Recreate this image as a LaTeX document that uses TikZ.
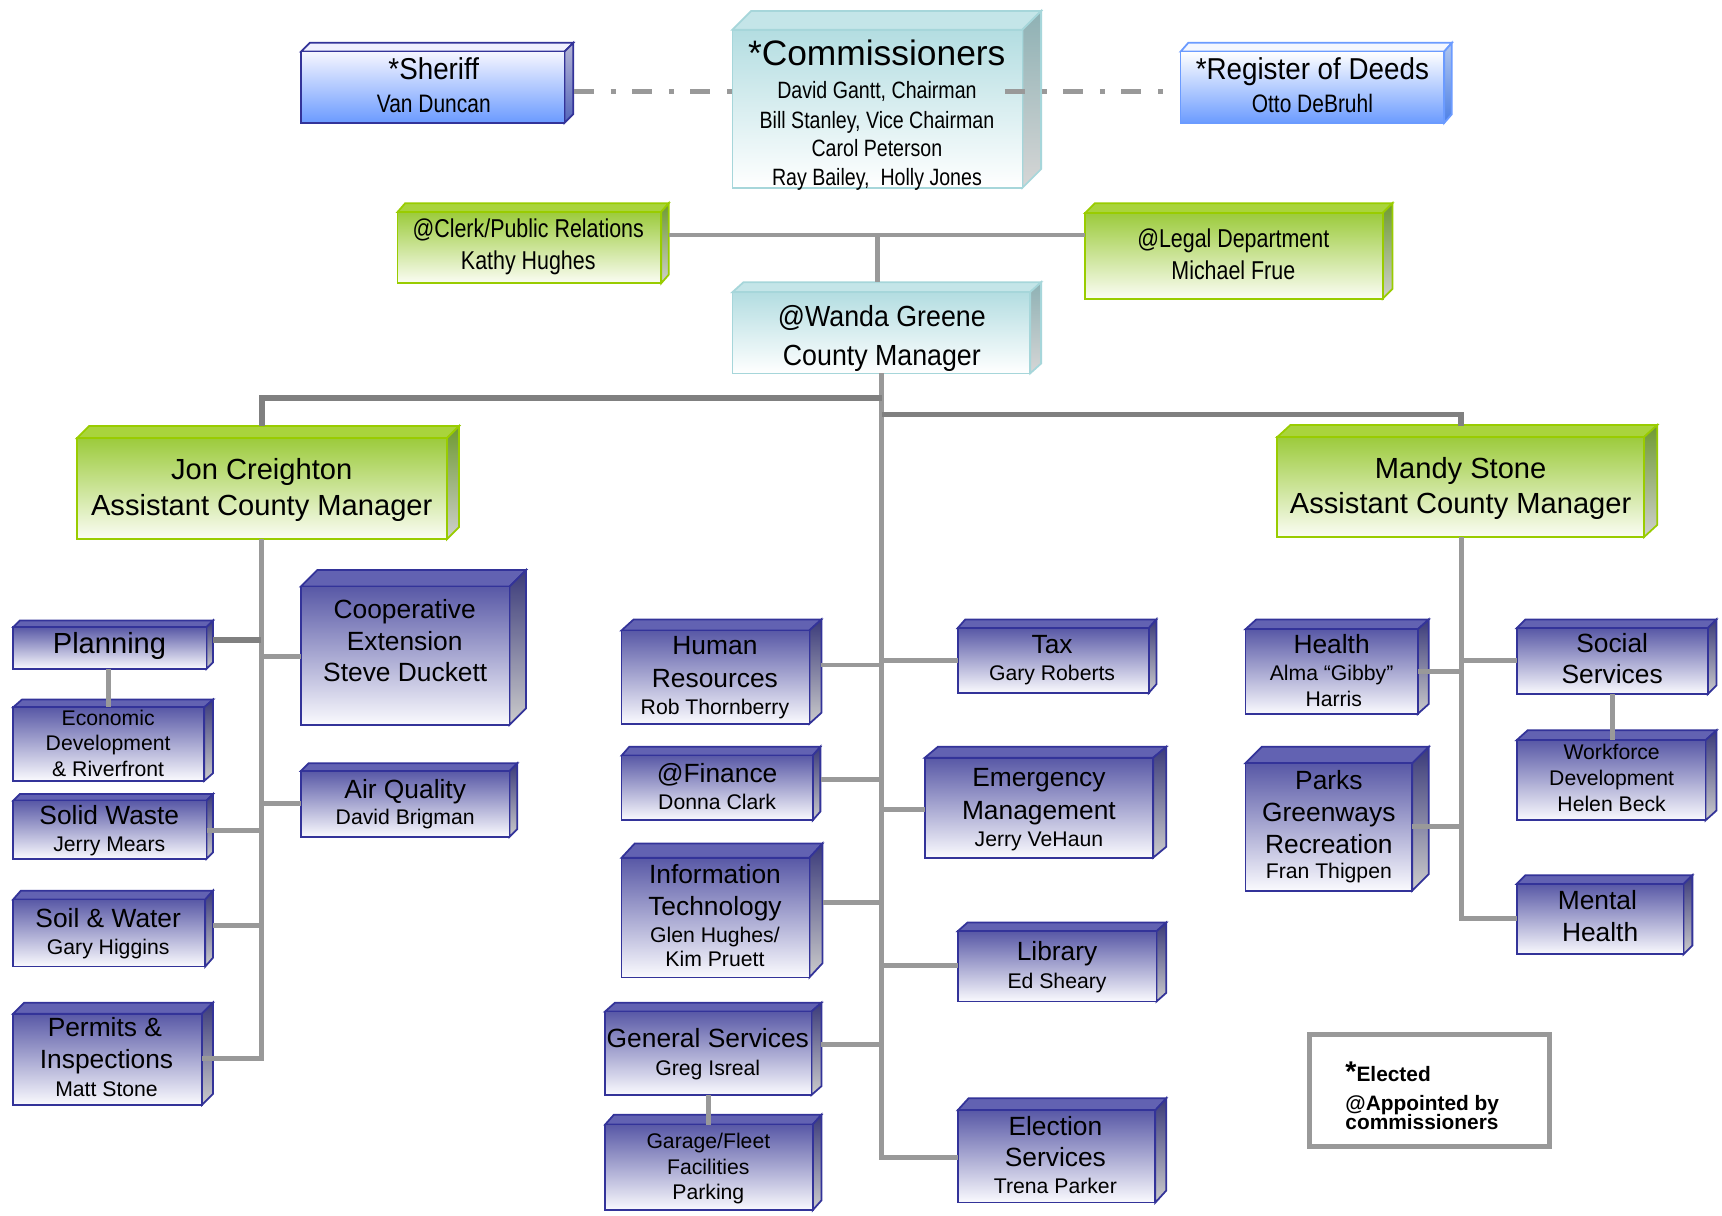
\documentclass[tikz,border=0pt]{standalone}
\usepackage{fontspec}
\setmainfont{Liberation Sans}
\newfontfamily\nfont[FakeStretch=0.83]{Liberation Sans}
\newfontfamily\mfont[FakeStretch=0.92]{Liberation Sans}
\newcommand\fsz[1]{\fontsize{#1}{#1}\selectfont}
\definecolor{deptT}{HTML}{6262B2}
\definecolor{deptB}{HTML}{333399}
\definecolor{deptF1}{HTML}{5858A6}
\definecolor{deptF2}{HTML}{FAFAFE}
\definecolor{deptS1}{HTML}{3A3A7A}
\definecolor{deptS2}{HTML}{CCCCCC}
\definecolor{greenT}{HTML}{A9D43C}
\definecolor{greenB}{HTML}{99CC00}
\definecolor{greenF1}{HTML}{9CCB3C}
\definecolor{greenF2}{HTML}{FBFDF4}
\definecolor{greenS1}{HTML}{6E9A30}
\definecolor{greenS2}{HTML}{CFCFCF}
\definecolor{tealT}{HTML}{C4E5E8}
\definecolor{tealB}{HTML}{A6D6DA}
\definecolor{tealF1}{HTML}{B3DDE1}
\definecolor{tealF2}{HTML}{FFFFFF}
\definecolor{tealS1}{HTML}{8EB1B4}
\definecolor{tealS2}{HTML}{D6D6D6}
\definecolor{sherT}{HTML}{F0F0FF}
\definecolor{sherB}{HTML}{333399}
\definecolor{sherF1}{HTML}{F6F6FF}
\definecolor{sherF2}{HTML}{6A9AFF}
\definecolor{sherS1}{HTML}{B5B5D5}
\definecolor{sherS2}{HTML}{5566BB}
\definecolor{regT}{HTML}{F4F7FF}
\definecolor{regB}{HTML}{6B9BFF}
\definecolor{regF1}{HTML}{FFFFFF}
\definecolor{regF2}{HTML}{6B9BFF}
\definecolor{regS1}{HTML}{B0C6EE}
\definecolor{regS2}{HTML}{4D80E6}
\definecolor{lineA}{HTML}{808080}
\definecolor{lineB}{HTML}{999999}
\tikzset{
  boxkind/.style={
    #1top/.style={fill=#1T, draw=#1B, line width=0.8pt},
    #1side/.style={top color=#1S1, bottom color=#1S2, draw=#1B, line width=0.8pt},
    #1front/.style={top color=#1F1, bottom color=#1F2, draw=#1B, line width=0.8pt}},
  boxkind=dept, boxkind=green, boxkind=teal, boxkind=sher, boxkind=reg,
  tx/.style={anchor=base, inner sep=0pt, text=black},
  T/.style={font=\fsz{12}},
  N/.style={font=\fsz{9.65}},
  connA/.style={draw=lineA, line width=2.6pt},
  connB/.style={draw=lineB, line width=2.25pt},
  dashc/.style={draw=lineB, line width=2.25pt, dash pattern=on 9pt off 7.75pt on 2.25pt off 7.5pt},
  legendbox/.style={draw=lineB, line width=2.25pt, fill=white, rectangle, inner sep=0pt, outer sep=0pt}
}
\newcommand\tdbox[8]{%
  \path[#8top] (#2,#3) -- (#2+#6,#3-#7) -- (#4+#6,#3-#7) -- (#4,#3) -- cycle;
  \path[#8side] (#4,#3) -- (#4+#6,#3-#7) -- (#4+#6,#5-#7) -- (#4,#5) -- cycle;
  \node[#8front, rectangle, inner sep=0pt, outer sep=0pt, anchor=north west,
        minimum width={(#4-#2)*0.5pt}, minimum height={(#5-#3)*0.5pt}] (#1) at (#2,#3) {};
}
\newcommand\tline[5]{\node[tx,#4] (#1) at (#2,#3) {#5};}
\begin{document}
\begin{tikzpicture}[x=0.5pt,y=-0.5pt]
\fill[white] (0,0) rectangle (1568,1107);
\useasboundingbox (0,0) rectangle (1568,1107);

% ---------- boxes ----------
\tdbox{sheriff}{274}{47}{514}{112}{8}{8}{sher}
\tdbox{comm}{667}{27}{931}{171}{17}{17}{teal}
\tdbox{reg}{1075}{47}{1315}{112}{7}{8}{reg}
\tdbox{clerk}{362}{193}{602}{258}{7}{8}{green}
\tdbox{legal}{988}{194}{1259}{272}{9}{9}{green}
\tdbox{wanda}{667}{266}{938}{340}{10}{9}{teal}
\tdbox{jon}{70}{399}{407}{491}{11}{11}{green}
\tdbox{mandy}{1163}{398}{1497}{489}{12}{11}{green}
\tdbox{plan}{12}{571}{188}{609}{6}{6}{dept}
\tdbox{econ}{12}{644}{186}{711}{8}{7}{dept}
\tdbox{solid}{12}{729}{188}{782}{6}{6}{dept}
\tdbox{soil}{12}{819}{187}{880}{7}{8}{dept}
\tdbox{perm}{12}{923}{184}{1006}{10}{10}{dept}
\tdbox{coop}{274}{534}{464}{660}{15}{15}{dept}
\tdbox{air}{274}{702}{464}{762}{7}{7}{dept}
\tdbox{hr}{566}{574}{737}{659}{11}{10}{dept}
\tdbox{fin}{566}{688}{740}{747}{7}{8}{dept}
\tdbox{it}{566}{781}{737}{890}{12}{13}{dept}
\tdbox{gen}{551}{921}{739}{997}{9}{8}{dept}
\tdbox{gar}{551}{1024}{740}{1102}{8}{9}{dept}
\tdbox{tax}{872}{572}{1046}{631}{7}{8}{dept}
\tdbox{em}{842}{690}{1050}{781}{12}{10}{dept}
\tdbox{lib}{872}{848}{1053}{912}{9}{8}{dept}
\tdbox{elec}{872}{1011}{1052}{1095}{10}{11}{dept}
\tdbox{health}{1134}{573}{1291}{650}{10}{9}{dept}
\tdbox{parks}{1134}{695}{1286}{811}{15}{15}{dept}
\tdbox{social}{1381}{572}{1555}{632}{8}{8}{dept}
\tdbox{work}{1381}{674}{1553}{747}{10}{9}{dept}
\tdbox{mental}{1381}{805}{1533}{869}{8}{8}{dept}
\node[legendbox, anchor=north west, minimum width=109.2pt, minimum height=50.7pt] (legend) at (1192.3,942.3) {};

% ---------- connectors ----------
\coordinate (dl) at (522.6,83);
\coordinate (dr1) at (915,83);
\coordinate (dr2) at (1060,83);
\draw[dashc] (dl) -- (dl -| comm.west);
\draw[dashc] (dr1) -- (dr2);

\coordinate (cl) at (609,214);
\coordinate (cv) at (798.6,214);
\coordinate (wtop) at (802.5,257);
\draw[connB] (cl) -- (cl -| legal.west);
\draw[connB] (cv) -- (cv |- wtop);

\coordinate (sp) at (803,340);
\coordinate (spb) at (803,1054);
\draw[connB] (sp) -- (spb) -- (spb -| elec.west);

\coordinate (jh) at (238.5,362.3);
\coordinate (jtop) at (238.5,388);
\draw[connA] (jh -| sp) -- (jh) -- (jtop);
\coordinate (mh) at (1330.5,377.3);
\coordinate (mtop) at (1330.5,387.6);
\draw[connA] (mh -| sp) -- (mh) -- (mtop);

% Jon branch
\coordinate (jsp) at (238,491);
\coordinate (jb) at (238,963.6);
\draw[connB] (jsp) -- (jb) -- (jb -| perm.east);
\coordinate (pc) at (194,582.5);
\draw[connA] (pc) -- (pc -| jsp);
\coordinate (pe) at (99,609);
\draw[connB] (pe) -- (pe |- econ.north);
\coordinate (sc) at (188.4,755.8);
\draw[connB] (sc) -- (sc -| jsp);
\coordinate (swc) at (194,842.3);
\draw[connB] (swc) -- (swc -| jsp);
\coordinate (cc) at (274,598);
\draw[connB] (cc -| jsp) -- (cc);
\coordinate (ac) at (274,732);
\draw[connB] (ac -| jsp) -- (ac);

% centre branch
\coordinate (hrc) at (748,605.5);
\draw[connB] (hrc) -- (hrc -| sp);
\coordinate (fic) at (748,710);
\draw[connB] (fic) -- (fic -| sp);
\coordinate (itc) at (749.5,821.6);
\draw[connB] (itc) -- (itc -| sp);
\coordinate (gec) at (748,951);
\draw[connB] (gec) -- (gec -| sp);
\coordinate (gv) at (645,997);
\draw[connB] (gv) -- (gv |- gar.north);
\coordinate (txc) at (872,601);
\draw[connB] (txc -| sp) -- (txc);
\coordinate (emc) at (842,736.7);
\draw[connB] (emc -| sp) -- (emc);
\coordinate (lbc) at (872,879.5);
\draw[connB] (lbc -| sp) -- (lbc);

% Mandy branch
\coordinate (msp) at (1330.5,489);
\coordinate (mb) at (1330.5,836);
\draw[connB] (msp) -- (mb) -- (mb -| mental.west);
\coordinate (hec) at (1291,611.6);
\draw[connB] (hec) -- (hec -| msp);
\coordinate (pac) at (1286,753);
\draw[connB] (pac) -- (pac -| msp);
\coordinate (soc) at (1381,601);
\draw[connB] (soc -| msp) -- (soc);
\coordinate (wv) at (1468,632);
\draw[connB] (wv) -- (wv |- work.north);

% ---------- texts ----------
\tline{sh1}{395}{72.8}{font=\mfont\fsz{13.75}}{*Sheriff}
\tline{sh2}{395}{102.6}{font=\nfont\fsz{11.5}}{Van Duncan}
\tline{rg1}{1195}{72.2}{font=\mfont\fsz{13.75}}{*Register of Deeds}
\tline{rg2}{1195}{102.4}{font=\nfont\fsz{11.5}}{Otto DeBruhl}
\tline{cm0}{798.3}{59.8}{font=\fsz{16.1}}{*Commissioners}
\tline{cm1}{798.5}{90.1}{font=\nfont\fsz{10.75}}{David Gantt, Chairman}
\tline{cm2}{798.5}{116.9}{font=\nfont\fsz{10.75}}{Bill Stanley, Vice Chairman}
\tline{cm3}{798.5}{142.7}{font=\nfont\fsz{10.75}}{Carol Peterson}
\tline{cm4}{798.5}{168.5}{font=\nfont\fsz{10.75}}{Ray Bailey,\ \ Holly Jones}
\tline{ck1}{481}{216}{font=\nfont\fsz{11.75}}{@Clerk/Public Relations}
\tline{ck2}{481}{245.2}{font=\nfont\fsz{11.75}}{Kathy Hughes}
\tline{lg1}{1123}{225}{font=\nfont\fsz{11.75}}{@Legal Department}
\tline{lg2}{1123}{254.3}{font=\nfont\fsz{11.75}}{Michael Frue}
\tline{wg1}{803}{296.9}{font=\mfont\fsz{13.25}}{@Wanda Greene}
\tline{wg2}{803}{332.4}{font=\mfont\fsz{13.25}}{County Manager}
\tline{jc1}{238.3}{437}{font=\fsz{13.25}}{Jon Creighton}
\tline{jc2}{238.3}{469}{font=\fsz{13.25}}{Assistant County Manager}
\tline{ms1}{1330}{435.5}{font=\fsz{13.25}}{Mandy Stone}
\tline{ms2}{1330}{467.5}{font=\fsz{13.25}}{Assistant County Manager}
\tline{pl1}{99.7}{595}{font=\fsz{13.25}}{Planning}
\tline{ec1}{98.5}{660.2}{N}{Economic}
\tline{ec2}{98.5}{683}{N}{Development}
\tline{ec3}{98.5}{706.6}{N}{\& Riverfront}
\tline{sw1}{99.5}{750.6}{T}{Solid Waste}
\tline{sw2}{99.5}{775}{N}{Jerry Mears}
\tline{so1}{98.5}{844.7}{T}{Soil \& Water}
\tline{so2}{98.5}{868.7}{N}{Gary Higgins}
\tline{pm1}{95.5}{944}{T}{Permits \&}
\tline{pm2}{97}{972.8}{T}{Inspections}
\tline{pm3}{97}{998}{N}{Matt Stone}
\tline{co1}{368.5}{563}{T}{Cooperative}
\tline{co2}{368.5}{592}{T}{Extension}
\tline{co3}{369}{620.7}{T}{Steve Duckett}
\tline{aq1}{369}{727}{T}{Air Quality}
\tline{aq2}{369}{751.2}{N}{David Brigman}
\tline{hr1}{651}{596.4}{T}{Human}
\tline{hr2}{651}{625.8}{T}{Resources}
\tline{hr3}{651}{650.5}{N}{Rob Thornberry}
\tline{fi1}{653}{712.7}{T}{@Finance}
\tline{fi2}{653}{737}{N}{Donna Clark}
\tline{it1}{651}{804.3}{T}{Information}
\tline{it2}{651}{833.2}{T}{Technology}
\tline{it3}{651}{858}{N}{Glen Hughes/}
\tline{it4}{651}{880.3}{N}{Kim Pruett}
\tline{gs1}{644.5}{953.7}{T}{General Services}
\tline{gs2}{644.5}{979}{N}{Greg Isreal}
\tline{ga1}{645}{1045.6}{N}{Garage/Fleet}
\tline{ga2}{645}{1069}{N}{Facilities}
\tline{ga3}{645}{1092}{N}{Parking}
\tline{tx1}{958}{595}{T}{Tax}
\tline{tx2}{958}{620}{N}{Gary Roberts}
\tline{em1}{946}{716.3}{T}{Emergency}
\tline{em2}{946}{745.8}{T}{Management}
\tline{em3}{946}{770.4}{N}{Jerry VeHaun}
\tline{lb1}{962.5}{874.2}{T}{Library}
\tline{lb2}{962.5}{900}{N}{Ed Sheary}
\tline{el1}{961}{1033.5}{T}{Election}
\tline{el2}{961}{1062.4}{T}{Services}
\tline{el3}{961}{1086.6}{N}{Trena Parker}
\tline{he1}{1212.5}{595}{T}{Health}
\tline{he2}{1212.5}{619.2}{N}{Alma “Gibby”}
\tline{he3}{1214.5}{643}{N}{Harris}
\tline{pk1}{1210}{718.5}{T}{Parks}
\tline{pk2}{1210}{748.2}{T}{Greenways}
\tline{pk3}{1210}{777}{T}{Recreation}
\tline{pk4}{1210}{799.8}{N}{Fran Thigpen}
\tline{ss1}{1468}{594}{T}{Social}
\tline{ss2}{1468}{622.8}{T}{Services}
\tline{wf1}{1467.5}{692}{N}{Workforce}
\tline{wf2}{1467.5}{715.7}{N}{Development}
\tline{wf3}{1467.5}{738.5}{N}{Helen Beck}
\tline{mh1}{1454.5}{828.6}{T}{Mental}
\tline{mh2}{1457}{857.5}{T}{Health}
\node[tx, anchor=base west, font=\bfseries\fsz{9.5}] (lg1t) at (1224.7,984.5) {{\fsz{13}*}Elected};
\node[tx, anchor=base west, font=\bfseries\fsz{9.5}] (lg2t) at (1224.7,1011) {@Appointed by};
\node[tx, anchor=base west, font=\bfseries\fsz{9.5}] (lg3t) at (1224.7,1028.4) {commissioners};
\end{tikzpicture}
\end{document}
